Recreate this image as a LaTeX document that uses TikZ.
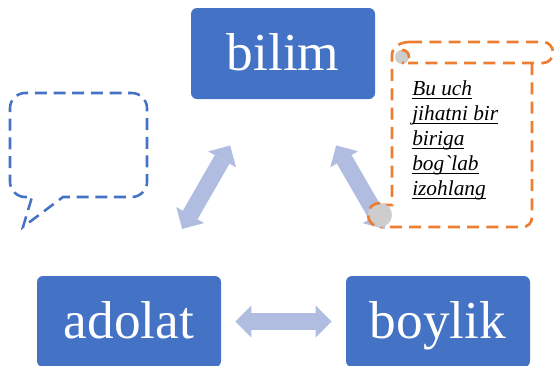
\documentclass[tikz,border=0pt]{standalone}
\usepackage{fontspec}
\setmainfont{Liberation Serif}
\newfontfamily\scrollfont{Liberation Serif}[Ligatures=TeXOff]
\usetikzlibrary{arrows.meta}
\definecolor{boxblue}{RGB}{68,114,196}
\definecolor{arrowblue}{RGB}{177,189,224}
\definecolor{scrollorange}{RGB}{237,125,49}
\definecolor{curlgray}{RGB}{205,205,205}
\newcommand\ulword[1]{\setbox0\hbox{#1}\rlap{\rule[-2.6pt]{\wd0}{0.8pt}}\box0}

\begin{document}
\begin{tikzpicture}[x=0.75pt,y=0.75pt,yscale=-1,xscale=1,
  box/.style={fill=boxblue, rounded corners=4.5pt, minimum width=138pt, minimum height=68.25pt, inner sep=0pt, text=white, font=\fontsize{40}{48}\selectfont, text height=24.75pt, text depth=0pt},
  bigarrow/.style={draw=arrowblue, line width=12.75pt, {Triangle[length=12pt,width=24pt,line width=0pt]}-{Triangle[length=12pt,width=24pt,line width=0pt]}},
  bubble/.style={draw=boxblue, line width=1.9pt, dash pattern=on 9pt off 5pt},
  scroll/.style={draw=scrollorange, line width=2pt, dash pattern=on 9pt off 5.5pt},
  curl/.style={fill=curlgray}]
\useasboundingbox (0,0) rectangle (554,365);

%Shape: Rectangle bilim
\node (bilim) [box] at (283,53.5) {bilim};
%Shape: Rectangle adolat
\node (adolat) [box] at (129,321.5) {adolat};
%Shape: Rectangle boylik
\node (boylik) [box] at (438,321.5) {boylik};

%Shape: Double Arrows
\draw [bigarrow, shorten <=40.5pt, shorten >=40pt] (adolat) -- (bilim);
\draw [bigarrow, shorten <=40.5pt, shorten >=40pt] (boylik) -- (bilim);
\draw [bigarrow, shorten <=10.5pt, shorten >=10.5pt] (adolat) -- (boylik);

%Shape: Speech Bubble
\draw [bubble] (25,197) .. controls (17,197) and (10,190) .. (10,182) -- (10,108) .. controls (10,100) and (17,93) .. (25,93) -- (132,93) .. controls (140,93) and (147,100) .. (147,108) -- (147,182) .. controls (147,190) and (140,197) .. (132,197) -- (63,197) -- (23,227) -- (32,197) -- cycle ;

%Shape: Vertical Scroll
\draw [scroll] (410,42) -- (543,42) .. controls (549,42) and (553,47) .. (553,52.5) .. controls (553,58) and (549,63) .. (543,63) -- (408,63) ;
\draw [scroll] (532,63) -- (532,217) .. controls (532,223) and (528,227) .. (522,227) -- (380,227) ;
\draw [scroll] (410,42) .. controls (400,42) and (392,47) .. (392,55) -- (392,205) -- (384,205) -- (384,213) ;
%Shape: Circle top curl
\fill [curl] (402,57) circle (7) ;
\draw [scroll] (402,50) .. controls (407,50) and (409,54) .. (409,57) .. controls (409,60) and (407,63) .. (402,63) ;
%Shape: Circle bottom curl
\fill [curl] (380,215) circle (12) ;
\draw [scroll] (380,203) .. controls (373,203) and (368,208) .. (368,215) .. controls (368,221) and (373,227) .. (380,227) ;

% Text Node
\node (note) [anchor=north west, inner sep=0pt, align=left, font=\scrollfont\itshape\fontsize{16}{18.75}\selectfont] at (412,80.5) {\ulword{Bu uch}\\\ulword{jihatni bir}\\\ulword{biriga}\\\ulword{bog`lab}\\\ulword{izohlang}};

\end{tikzpicture}
\end{document}
